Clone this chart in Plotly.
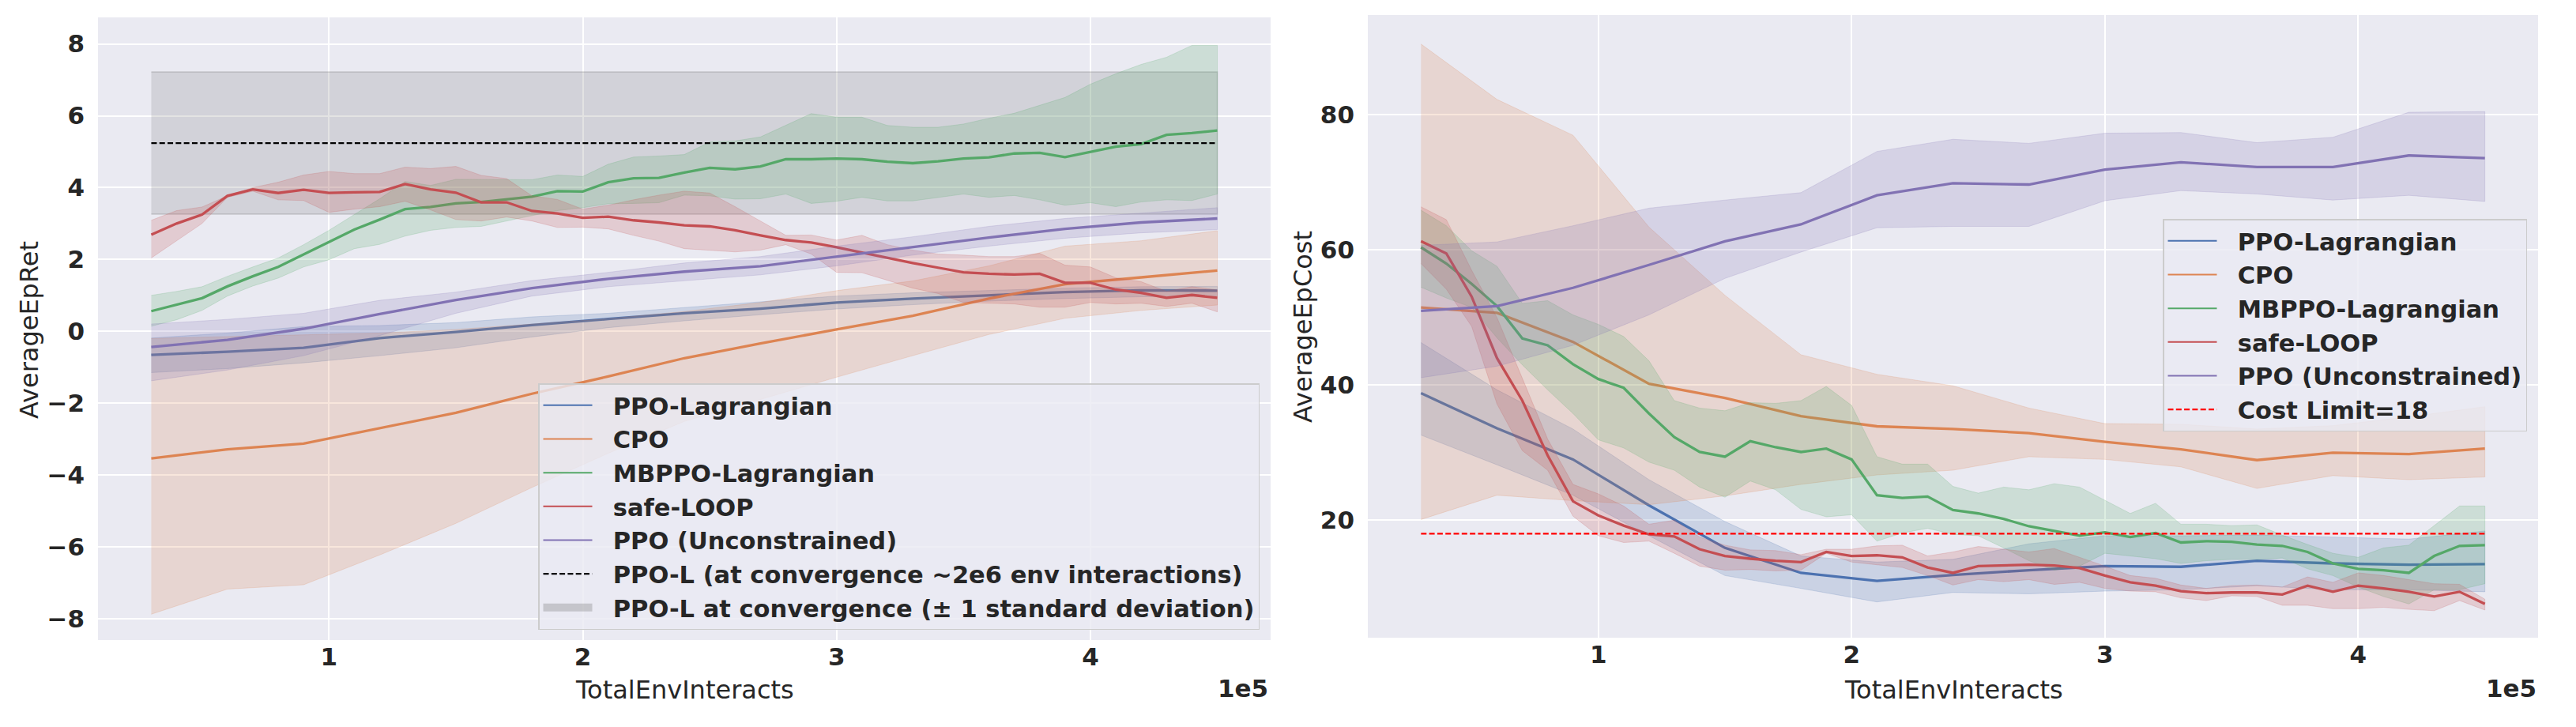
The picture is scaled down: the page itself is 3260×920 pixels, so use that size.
import plotly.graph_objects as go

# ---- data -----------------------------------------------------------------
# env interaction counts at which runs were logged
steps_coarse = [30000, 60000, 90000, 120000, 150000, 180000, 210000, 240000,
                270000, 300000, 330000, 360000, 390000, 420000, 450000]
steps_fine = [30000, 40000, 50000, 60000, 70000, 80000, 90000, 100000, 110000,
              120000, 130000, 140000, 150000, 160000, 170000, 180000, 190000,
              200000, 210000, 220000, 230000, 240000, 250000, 260000, 270000,
              280000, 290000, 300000, 310000, 320000, 330000, 340000, 350000,
              360000, 370000, 380000, 390000, 400000, 410000, 420000, 430000,
              440000, 450000]

# AverageEpRet (left panel)
ret_ppol_mean = [-0.66, -0.57, -0.46, -0.19, -0.02, 0.17, 0.34, 0.5, 0.63, 0.8, 0.91, 1.0, 1.09, 1.14, 1.13]
ret_ppol_hi = [-0.19, -0.05, 0.13, 0.16, 0.24, 0.4, 0.5, 0.66, 0.83, 0.98, 1.07, 1.14, 1.2, 1.24, 1.25]
ret_ppol_lo = [-1.15, -1.04, -0.88, -0.68, -0.46, -0.16, 0.1, 0.29, 0.46, 0.62, 0.74, 0.84, 0.91, 0.96, 0.98]

ret_cpo_mean = [-3.54, -3.29, -3.13, -2.70, -2.27, -1.74, -1.26, -0.75, -0.34, 0.05, 0.43, 0.91, 1.31, 1.5, 1.69]
ret_cpo_hi = [-0.2, -0.15, -0.1, -0.05, 0.05, 0.2, 0.35, 0.55, 0.8, 1.13, 1.4, 1.82, 2.37, 2.52, 2.8]
ret_cpo_lo = [-7.88, -7.18, -7.06, -6.23, -5.35, -4.35, -3.4, -2.51, -1.9, -1.28, -0.68, -0.09, 0.36, 0.58, 0.73]

ret_mbppo_mean = [0.56, 0.74, 0.92, 1.25, 1.53, 1.79, 2.14, 2.47, 2.83, 3.11, 3.4, 3.46, 3.56, 3.6, 3.68,
                  3.75, 3.9, 3.89, 4.15, 4.26, 4.27, 4.42, 4.55, 4.51, 4.59, 4.79, 4.79, 4.81, 4.79, 4.72,
                  4.68, 4.73, 4.81, 4.84, 4.95, 4.97, 4.85, 5.0, 5.14, 5.21, 5.47, 5.52, 5.59]
ret_mbppo_hi = [1.0, 1.11, 1.24, 1.53, 1.79, 2.04, 2.41, 2.81, 3.25, 3.69, 4.17, 4.06, 4.23, 4.23, 4.22,
                4.22, 4.35, 4.31, 4.65, 4.85, 4.88, 4.92, 5.27, 5.3, 5.41, 5.74, 6.06, 5.96, 5.96, 5.73,
                5.68, 5.68, 5.77, 5.93, 6.07, 6.29, 6.51, 6.88, 7.17, 7.43, 7.63, 7.96, 7.96]
ret_mbppo_lo = [0.14, 0.32, 0.58, 0.98, 1.26, 1.48, 1.79, 1.99, 2.3, 2.42, 2.65, 2.81, 2.89, 2.92, 3.07,
                3.22, 3.36, 3.44, 3.55, 3.56, 3.58, 3.79, 3.77, 3.68, 3.69, 3.82, 3.56, 3.62, 3.73, 3.63,
                3.63, 3.73, 3.82, 3.73, 3.78, 3.66, 3.51, 3.58, 3.47, 3.6, 3.66, 3.64, 3.82]

ret_loop_mean = [2.69, 3.0, 3.25, 3.77, 3.95, 3.85, 3.94, 3.85, 3.87, 3.88, 4.10, 3.95, 3.86, 3.59, 3.59,
                 3.35, 3.28, 3.16, 3.19, 3.09, 3.03, 2.95, 2.92, 2.81, 2.67, 2.54, 2.47, 2.34, 2.19, 2.04,
                 1.9, 1.77, 1.64, 1.6, 1.58, 1.6, 1.35, 1.35, 1.16, 1.07, 0.93, 1.01, 0.93]
ret_loop_hi = [3.09, 3.36, 3.46, 3.77, 4.0, 4.15, 4.35, 4.45, 4.39, 4.39, 4.57, 4.53, 4.59, 4.34, 4.25,
               3.77, 3.67, 3.4, 3.51, 3.66, 3.79, 3.9, 3.85, 3.47, 3.07, 2.67, 2.68, 2.54, 2.67, 2.41,
               2.26, 2.15, 2.12, 2.08, 2.08, 2.17, 1.84, 1.79, 1.49, 1.38, 1.11, 1.24, 1.15]
ret_loop_lo = [2.04, 2.52, 3.0, 3.73, 3.9, 3.66, 3.64, 3.31, 3.4, 3.47, 3.62, 3.38, 3.11, 3.07, 3.18,
               3.07, 2.89, 2.9, 2.85, 2.67, 2.51, 2.3, 2.26, 2.21, 2.26, 2.41, 2.15, 1.64, 1.63, 1.42,
               1.2, 1.05, 0.8, 0.78, 0.76, 0.67, 0.67, 0.8, 0.76, 0.78, 0.69, 0.78, 0.54]

ret_ppo_mean = [-0.44, -0.24, 0.07, 0.48, 0.87, 1.2, 1.46, 1.66, 1.81, 2.08, 2.34, 2.61, 2.85, 3.03, 3.14]
ret_ppo_hi = [0.2, 0.33, 0.5, 0.86, 1.09, 1.41, 1.64, 1.9, 2.08, 2.37, 2.63, 2.92, 3.14, 3.29, 3.44]
ret_ppo_lo = [-1.38, -1.08, -0.68, -0.12, 0.5, 0.98, 1.24, 1.41, 1.57, 1.82, 2.12, 2.37, 2.59, 2.74, 2.83]

ppol_conv_mean = 5.24
ppol_conv_std = 1.98
conv_span = [30000, 450000]

# AverageEpCost (right panel)
cost_ppol_mean = [38.8, 33.6, 29.0, 22.2, 15.9, 12.2, 11.0, 11.9, 12.6, 13.2, 13.1, 14.0, 13.6, 13.4, 13.5]
cost_ppol_hi = [46.3, 39.3, 33.5, 26.0, 19.8, 14.7, 13.8, 14.2, 16.5, 17.7, 17.7, 17.8, 17.5, 17.2, 18.4]
cost_ppol_lo = [32.6, 28.2, 23.7, 17.7, 11.8, 9.9, 7.9, 9.3, 9.1, 9.5, 9.7, 10.3, 9.7, 9.7, 9.4]

cost_cpo_mean = [51.5, 50.7, 46.4, 40.2, 38.1, 35.4, 33.9, 33.5, 32.9, 31.6, 30.5, 28.9, 30.0, 29.8, 30.6]
cost_cpo_hi = [90.5, 82.3, 77.0, 63.4, 53.3, 44.5, 41.6, 39.9, 36.6, 34.3, 34.2, 33.5, 34.0, 35.3, 36.8]
cost_cpo_lo = [20.1, 23.7, 22.9, 22.3, 23.6, 25.3, 26.7, 27.4, 29.4, 29.0, 27.9, 24.7, 26.6, 26.0, 26.4]

cost_mbppo_mean = [60.4, 58.0, 55.0, 51.7, 46.9, 45.9, 43.1, 40.9, 39.6, 35.8, 32.3, 30.1, 29.4, 31.7, 30.8,
                   30.1, 30.6, 29.0, 23.7, 23.3, 23.5, 21.5, 21.0, 20.2, 19.1, 18.4, 17.7, 18.2, 17.5, 18.1,
                   16.7, 16.9, 16.8, 16.4, 16.2, 15.3, 13.6, 12.8, 12.6, 12.2, 14.7, 16.2, 16.3]
cost_mbppo_hi = [65.9, 63.6, 59.9, 57.6, 52.1, 52.5, 50.4, 49.0, 47.2, 43.6, 37.7, 36.6, 36.2, 37.4, 37.3,
                 37.7, 39.8, 37.0, 29.4, 28.3, 28.3, 25.0, 24.0, 24.9, 24.5, 25.4, 24.9, 22.9, 21.0, 22.5,
                 19.4, 19.4, 19.2, 19.3, 17.8, 16.4, 15.1, 14.5, 15.9, 16.3, 19.2, 22.1, 22.1]
cost_mbppo_lo = [54.5, 52.9, 51.5, 47.0, 43.0, 39.3, 35.8, 31.9, 30.7, 28.6, 27.4, 24.9, 23.4, 25.8, 24.5,
                 21.6, 20.5, 20.8, 16.9, 18.1, 18.8, 17.9, 17.7, 15.9, 14.0, 12.6, 13.2, 15.1, 14.7, 14.3,
                 13.6, 14.0, 14.2, 14.2, 14.4, 12.8, 11.8, 10.1, 8.7, 7.6, 9.7, 9.7, 10.6]

cost_loop_mean = [61.3, 59.5, 53.1, 44.0, 37.7, 29.6, 22.8, 20.7, 19.2, 17.9, 17.6, 15.7, 14.7, 14.3, 14.0,
                  13.8, 15.3, 14.7, 14.8, 14.5, 13.0, 12.2, 13.2, 13.3, 13.4, 13.3, 12.9, 11.8, 10.8, 10.3,
                  9.5, 9.2, 9.3, 9.3, 9.0, 10.3, 9.4, 10.3, 9.9, 9.4, 8.7, 9.4, 7.6]
cost_loop_hi = [66.4, 64.5, 57.0, 50.0, 41.0, 32.0, 25.3, 23.9, 22.1, 19.4, 20.0, 17.5, 16.3, 15.6, 15.5,
                14.9, 15.7, 15.7, 16.2, 16.3, 14.7, 15.3, 16.1, 15.7, 15.3, 15.8, 14.5, 13.2, 11.8, 11.4,
                10.4, 9.9, 10.3, 10.4, 10.1, 11.6, 10.8, 12.2, 11.8, 11.2, 10.6, 10.5, 8.3]
cost_loop_lo = [58.0, 54.2, 48.7, 37.2, 30.3, 27.4, 20.6, 17.7, 16.7, 16.9, 15.1, 13.2, 12.6, 12.7, 12.5,
                12.6, 15.1, 13.8, 13.4, 13.0, 11.8, 10.4, 11.2, 10.9, 11.2, 10.5, 10.8, 9.9, 9.5, 9.4,
                8.5, 8.1, 8.8, 8.7, 7.4, 7.4, 6.9, 6.9, 7.1, 6.8, 6.6, 8.1, 6.7]

cost_ppo_mean = [51.0, 51.7, 54.4, 57.8, 61.3, 63.8, 68.1, 69.9, 69.7, 71.9, 73.0, 72.3, 72.3, 74.0, 73.6]
cost_ppo_hi = [60.7, 61.2, 63.6, 66.2, 67.4, 68.5, 74.6, 76.4, 75.8, 77.3, 77.4, 75.9, 76.7, 80.4, 80.5]
cost_ppo_lo = [41.1, 42.8, 45.9, 50.4, 55.8, 59.7, 63.3, 63.5, 63.5, 67.3, 68.8, 68.3, 67.4, 68.1, 67.2]

cost_limit = 18

x_tickvals = [100000, 200000, 300000, 400000]
x_ticktext = ["1", "2", "3", "4"]

# ---- styling --------------------------------------------------------------
# the page body adds an 8px margin, so the figure is a little smaller than the window
PAD = 8
W, H = 3260 - 2 * PAD, 920 - 2 * PAD
TXT = "#262626"
FONT = "DejaVu Sans"

colors = {
    "PPO-Lagrangian": (76, 114, 176),
    "CPO": (221, 132, 82),
    "MBPPO-Lagrangian": (85, 168, 104),
    "safe-LOOP": (196, 78, 82),
    "PPO (Unconstrained)": (129, 114, 179),
}


def rgba(c, a):
    return f"rgba({c[0]},{c[1]},{c[2]},{a})"


# screen pixel -> paper fraction
def px_x(p):
    return (p - PAD) / W


def px_y(p):
    return 1 - (p - PAD) / H


fig = go.Figure()


def add_series(name, x, mean, lo, hi, xa, ya, legend):
    c = colors[name]
    fig.add_trace(go.Scatter(
        x=x + x[::-1], y=hi + lo[::-1], fill="toself",
        fillcolor=rgba(c, 0.2), line=dict(color=rgba(c, 0.2), width=1),
        mode="lines", hoverinfo="skip", showlegend=False, xaxis=xa, yaxis=ya))
    fig.add_trace(go.Scatter(
        x=x, y=mean, mode="lines", line=dict(color=rgba(c, 1), width=3.3),
        showlegend=False, xaxis=xa, yaxis=ya))
    # thinner handle for the legend, like the original
    fig.add_trace(go.Scatter(
        x=[None], y=[None], mode="lines", name="  " + name,
        line=dict(color=rgba(c, 1), width=2), legend=legend, xaxis=xa, yaxis=ya))


# left panel: converged PPO-L band first so the curves sit on top
conv_hi = [ppol_conv_mean + ppol_conv_std] * 2
conv_lo = [ppol_conv_mean - ppol_conv_std] * 2
fig.add_trace(go.Scatter(
    x=conv_span + conv_span[::-1], y=conv_hi + conv_lo[::-1], fill="toself",
    fillcolor="rgba(128,128,128,0.22)", line=dict(color="rgba(100,100,100,0.25)", width=1.5),
    mode="lines", hoverinfo="skip", showlegend=False, xaxis="x", yaxis="y"))

add_series("PPO-Lagrangian", steps_coarse, ret_ppol_mean, ret_ppol_lo, ret_ppol_hi, "x", "y", "legend")
add_series("CPO", steps_coarse, ret_cpo_mean, ret_cpo_lo, ret_cpo_hi, "x", "y", "legend")
add_series("MBPPO-Lagrangian", steps_fine, ret_mbppo_mean, ret_mbppo_lo, ret_mbppo_hi, "x", "y", "legend")
add_series("safe-LOOP", steps_fine, ret_loop_mean, ret_loop_lo, ret_loop_hi, "x", "y", "legend")
add_series("PPO (Unconstrained)", steps_coarse, ret_ppo_mean, ret_ppo_lo, ret_ppo_hi, "x", "y", "legend")

fig.add_trace(go.Scatter(
    x=conv_span, y=[ppol_conv_mean] * 2, mode="lines",
    line=dict(color="black", width=2.2, dash="7px,3.3px"),
    name="  PPO-L (at convergence ~2e6 env interactions)", legend="legend", xaxis="x", yaxis="y"))
fig.add_trace(go.Scatter(
    x=[None], y=[None], mode="lines", line=dict(color="rgba(128,128,128,0.35)", width=10),
    name="  PPO-L at convergence (± 1 standard deviation)", legend="legend", xaxis="x", yaxis="y"))

# right panel
add_series("PPO-Lagrangian", steps_coarse, cost_ppol_mean, cost_ppol_lo, cost_ppol_hi, "x2", "y2", "legend2")
add_series("CPO", steps_coarse, cost_cpo_mean, cost_cpo_lo, cost_cpo_hi, "x2", "y2", "legend2")
add_series("MBPPO-Lagrangian", steps_fine, cost_mbppo_mean, cost_mbppo_lo, cost_mbppo_hi, "x2", "y2", "legend2")
add_series("safe-LOOP", steps_fine, cost_loop_mean, cost_loop_lo, cost_loop_hi, "x2", "y2", "legend2")
add_series("PPO (Unconstrained)", steps_coarse, cost_ppo_mean, cost_ppo_lo, cost_ppo_hi, "x2", "y2", "legend2")

fig.add_trace(go.Scatter(
    x=conv_span, y=[cost_limit] * 2, mode="lines",
    line=dict(color="red", width=2.2, dash="7px,3.3px"),
    name=f"  Cost Limit={cost_limit}", legend="legend2", xaxis="x2", yaxis="y2"))

# ---- layout ---------------------------------------------------------------
tickfont = dict(family=FONT, size=31, color=TXT, weight="bold")
common_x = dict(range=[9000, 471000], tickvals=x_tickvals, ticktext=x_ticktext,
                showgrid=True, gridcolor="white", gridwidth=1.5, zeroline=False,
                showline=False, tickfont=tickfont, ticklabelstandoff=0, automargin=False)
common_y = dict(showgrid=True, gridcolor="white", gridwidth=1.5, zeroline=False,
                showline=False, tickfont=tickfont, ticklabelstandoff=16, automargin=False)

legend_style = dict(bgcolor="rgba(234,234,242,0.8)", bordercolor="#cccccc", borderwidth=1.5,
                    font=dict(family=FONT, size=30.5, color=TXT, weight="bold"),
                    itemwidth=62, tracegroupgap=0, xref="paper", yref="paper")

fig.update_layout(
    width=W, height=H,
    margin=dict(l=0, r=0, t=0, b=0),
    paper_bgcolor="white",
    plot_bgcolor="#EAEAF2",
    font=dict(family=FONT, color=TXT),
    xaxis=dict(domain=[px_x(124), px_x(1608)], anchor="y", **common_x),
    yaxis=dict(domain=[px_y(810), px_y(22)], anchor="x", range=[-8.6, 8.74], dtick=2, tick0=0, **common_y),
    xaxis2=dict(domain=[px_x(1731), px_x(3212)], anchor="y2", **common_x),
    yaxis2=dict(domain=[px_y(807), px_y(19)], anchor="x2", range=[2.6, 94.8], dtick=20, tick0=0, **common_y),
    legend=dict(x=px_x(1594), y=px_y(797), xanchor="right", yanchor="bottom", **legend_style),
    legend2=dict(x=px_x(3198), y=px_y(277), xanchor="right", yanchor="top", **legend_style),
)

title_font = dict(family=FONT, size=32, color=TXT)
offset_font = dict(family=FONT, size=31, color=TXT, weight="bold")
for xc, yt, yc in [(37, "AverageEpRet", 418), (1649, "AverageEpCost", 413)]:
    fig.add_annotation(x=px_x(xc), y=px_y(yc), xref="paper", yref="paper", text=yt,
                       textangle=-90, xanchor="center", yanchor="middle",
                       showarrow=False, font=title_font)
for xc, xr in [(866, 1607), (2472, 3212)]:
    fig.add_annotation(x=px_x(xc), y=px_y(873), xref="paper", yref="paper",
                       text="TotalEnvInteracts", xanchor="center", yanchor="middle",
                       showarrow=False, font=title_font)
    fig.add_annotation(x=px_x(xr), y=px_y(871), xref="paper", yref="paper", text="1e5",
                       xanchor="right", yanchor="middle", showarrow=False, font=offset_font)

fig.write_html("out.html")
